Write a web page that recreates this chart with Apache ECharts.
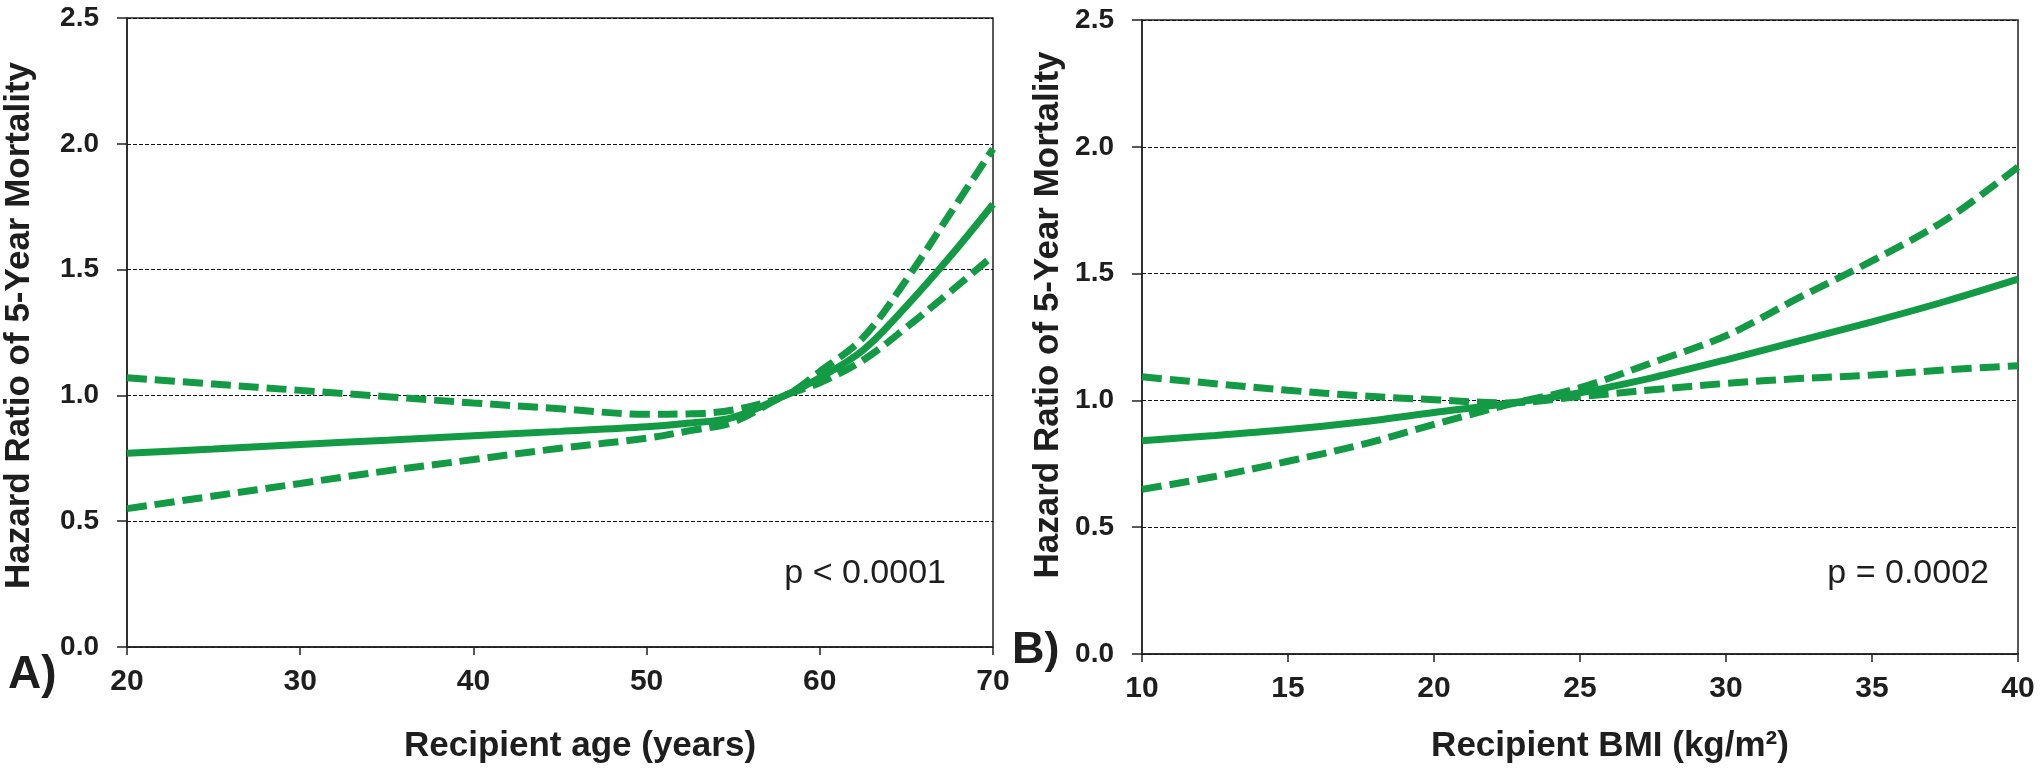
<!DOCTYPE html>
<html>
<head>
<meta charset="utf-8">
<script src="https://cdn.jsdelivr.net/npm/echarts@6/dist/echarts.min.js"></script>
<style>
html,body{margin:0;padding:0;background:#fff;}
#chart{width:2040px;height:769px;}
</style>
</head>
<body>
<div id="chart"></div>
<script>
// Panel A: recipient age
var ageX = [20, 25, 30, 35, 40, 45, 50, 52.5, 55, 58, 60, 62.5, 65, 67.5, 70];
var ageHR = [0.77, 0.787, 0.805, 0.822, 0.84, 0.857, 0.875, 0.89, 0.913, 1.0, 1.07, 1.18, 1.355, 1.55, 1.76];
var ageUpper = [1.07, 1.045, 1.02, 0.995, 0.97, 0.947, 0.925, 0.927, 0.942, 1.0, 1.095, 1.23, 1.46, 1.72, 1.98];
var ageLower = [0.55, 0.6, 0.65, 0.7, 0.745, 0.79, 0.83, 0.86, 0.894, 1.0, 1.05, 1.14, 1.27, 1.41, 1.555];

// Panel B: recipient BMI
var bmiX = [10, 12.5, 15, 17.5, 20, 22.5, 25, 27.5, 30, 32.5, 35, 37.5, 40];
var bmiHR = [0.841, 0.862, 0.885, 0.915, 0.952, 0.988, 1.03, 1.09, 1.16, 1.235, 1.31, 1.39, 1.478];
var bmiCI1 = [1.093, 1.066, 1.04, 1.018, 1.003, 0.99, 1.015, 1.042, 1.067, 1.086, 1.1, 1.12, 1.137];
var bmiCI2 = [0.649, 0.70, 0.76, 0.825, 0.905, 0.982, 1.05, 1.15, 1.255, 1.405, 1.55, 1.71, 1.92];

var yTicks = {min: 0, max: 2.5, interval: 0.5};
var pTextA = 'p < 0.0001';
var pTextB = 'p = 0.0002';

function zip(xs, ys) { return xs.map(function (x, i) { return [x, ys[i]]; }); }

var GREEN = '#129a44';
var INK = '#1e1e1e';
var FONT = 'Liberation Sans, Arial, Helvetica, sans-serif';

function xAxisCfg(gi, min, max, interval, name, shift, gap) {
  return {
    type: 'value', gridIndex: gi, min: min, max: max, interval: interval,
    name: name, nameLocation: 'middle', nameGap: gap,
    nameTextStyle: {fontFamily: FONT, fontWeight: 'bold', fontSize: 35, color: INK, padding: [0, 0, 0, shift]},
    axisLine: {show: true, lineStyle: {color: '#222', width: 1.5}},
    axisTick: {show: true, inside: false, length: 8, lineStyle: {color: '#222', width: 1.5}},
    axisLabel: {fontFamily: FONT, fontWeight: 'bold', fontSize: 30, color: INK, margin: 20},
    splitLine: {show: false}
  };
}
function yAxisCfg(gi, name, gap, shift) {
  return {
    type: 'value', gridIndex: gi, min: yTicks.min, max: yTicks.max, interval: yTicks.interval,
    name: name, nameLocation: 'middle', nameGap: gap,
    nameTextStyle: {fontFamily: FONT, fontWeight: 'bold', fontSize: 35, color: INK, padding: [0, 0, 0, shift]},
    axisLine: {show: true, lineStyle: {color: '#222', width: 1.5}},
    axisTick: {show: true, inside: false, length: 10, lineStyle: {color: '#222', width: 1.5}},
    axisLabel: {fontFamily: FONT, fontWeight: 'bold', fontSize: 28, color: INK, margin: 28,
      formatter: function (v) { return v.toFixed(1); }},
    splitLine: {show: true, lineStyle: {color: '#111', width: 1.2, type: [4, 2]}}
  };
}
function lineSeries(xi, data, dashed) {
  return {
    type: 'line', xAxisIndex: xi, yAxisIndex: xi, data: data,
    smooth: 0.35, showSymbol: false, symbol: 'none', silent: true,
    lineStyle: {color: GREEN, width: 7, type: dashed ? [20, 8] : 'solid', cap: 'butt'},
    z: dashed ? 3 : 4
  };
}

var chart = echarts.init(document.getElementById('chart'), null, {renderer: 'canvas'});
chart.setOption({
  animation: false,
  backgroundColor: '#fff',
  grid: [
    {left: 127, top: 18, right: 1047, bottom: 117, show: true, borderColor: '#222', borderWidth: 1.5, backgroundColor: 'transparent'},
    {left: 1142, top: 20, right: 22, bottom: 113, show: true, borderColor: '#222', borderWidth: 1.5, backgroundColor: 'transparent'}
  ],
  xAxis: [
    xAxisCfg(0, 20, 70, 10, 'Recipient age (years)', 40, 82),
    xAxisCfg(1, 10, 40, 5, 'Recipient BMI (kg/m²)', 60, 75)
  ],
  yAxis: [
    yAxisCfg(0, 'Hazard Ratio of 5-Year Mortality', 90, 14),
    yAxisCfg(1, 'Hazard Ratio of 5-Year Mortality', 76, 44)
  ],
  series: [
    lineSeries(0, zip(ageX, ageUpper), true),
    lineSeries(0, zip(ageX, ageLower), true),
    lineSeries(0, zip(ageX, ageHR), false),
    lineSeries(1, zip(bmiX, bmiCI1), true),
    lineSeries(1, zip(bmiX, bmiCI2), true),
    lineSeries(1, zip(bmiX, bmiHR), false)
  ],
  graphic: [
    {type: 'text', left: 8, top: 652, style: {text: 'A)', font: 'bold 46px ' + FONT, fill: INK}},
    {type: 'text', left: 1012, top: 628, style: {text: 'B)', font: 'bold 45px ' + FONT, fill: INK}},
    {type: 'text', right: 2040 - 946, top: 557, style: {text: pTextA, font: '34px ' + FONT, fill: INK}},
    {type: 'text', right: 2040 - 1989, top: 557, style: {text: pTextB, font: '34px ' + FONT, fill: INK}}
  ]
});
</script>
</body>
</html>
